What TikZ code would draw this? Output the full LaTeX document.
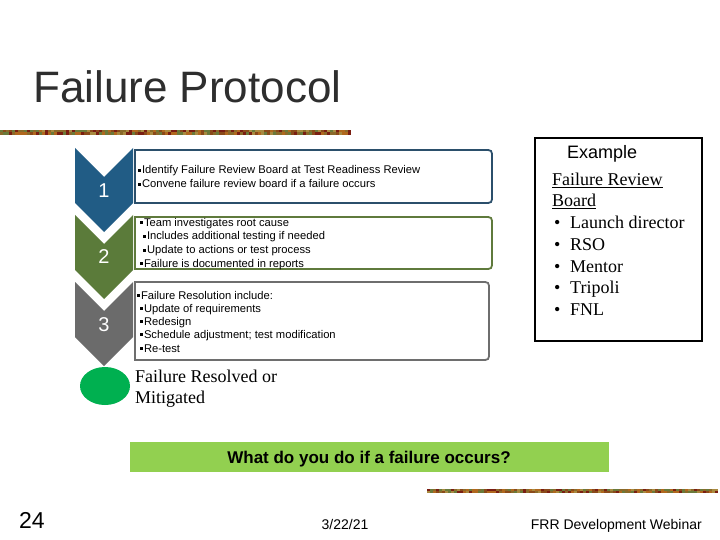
\documentclass[tikz,border=0pt]{standalone}
\usepackage{fontspec}
\setmainfont{Liberation Serif}
\newfontfamily\arial{Liberation Sans}
\usetikzlibrary{shapes.geometric}
\definecolor{cblue}{HTML}{215C85}
\definecolor{cbluel}{HTML}{2B4F6B}
\definecolor{colive}{HTML}{5B7B3A}
\definecolor{colivel}{HTML}{5F7A3C}
\definecolor{cgray}{HTML}{6B6B6B}
\definecolor{cgrayl}{HTML}{6E6E6E}
\definecolor{cgreen}{HTML}{00B050}
\definecolor{cband}{HTML}{92D050}
\definecolor{band1}{HTML}{8A6A2A}
\definecolor{band2}{HTML}{7A1E12}
\definecolor{band3}{HTML}{B0681E}
\definecolor{band4}{HTML}{6A7A3A}
\definecolor{band5}{HTML}{A88A40}
\definecolor{band6}{HTML}{8A4A1A}
\newcommand\chev[2]{\fill[#2] (75,#1) -- (104,{#1+29}) -- (133,#1) -- (133,{#1+55}) -- (104,{#1+84}) -- (75,{#1+55}) -- cycle;}
\newcommand\rbox[5]{\draw[#5] (#1,#2) -- ({#3-8},#2) .. controls (#3,#2) .. (#3,{#2+8}) -- (#3,{#4-8}) .. controls (#3,#4) .. ({#3-8},#4) -- (#1,#4) -- cycle;}
\newcommand\sqb{\rule[2.3pt]{3pt}{3pt}\hspace{0.8pt}}
\begin{document}
\begin{tikzpicture}[x=1pt,y=-1pt,
  itm/.style={anchor=base west,inner sep=0pt,font=\arial\fontsize{11.2}{13}\selectfont},
  num/.style={inner sep=0pt,text=white,font=\arial\fontsize{20}{22}\selectfont},
  serif/.style={anchor=base west,inner sep=0pt,font=\fontsize{18}{21}\selectfont},
  boxline/.style={line width=1.8pt,fill=white}]
\useasboundingbox (0,0) rectangle (720,540);
\fill[white] (0,0) rectangle (720,540);
% title
\node[anchor=base west,inner sep=0pt,text=black!82,font=\arial\fontsize{44}{48}\selectfont] (title) at (33,103) {Failure Protocol};
% decorative bands
\pgfmathsetseed{7}
\foreach \i in {0,3,...,349} {
  \pgfmathrandominteger{\r}{1}{6}
  \fill[fill=band\r] (\i,130) rectangle ++(3,2.5);
  \pgfmathrandominteger{\s}{1}{6}
  \fill[fill=band\s] (\i,132.5) rectangle ++(3,2.5);
}
\foreach \i in {427,430,...,717} {
  \pgfmathrandominteger{\r}{1}{6}
  \fill[fill=band\r] (\i,489) rectangle ++(3,2);
  \pgfmathrandominteger{\s}{1}{6}
  \fill[fill=band\s] (\i,491) rectangle ++(3,2);
}
% boxes
\rbox{135}{150}{492}{203}{boxline,draw=cbluel}
\rbox{135}{217}{492}{269}{boxline,draw=colivel}
\rbox{135}{282}{489}{360}{boxline,draw=cgrayl}
% chevrons
\chev{148}{cblue}
\chev{215}{colive}
\chev{282}{cgray}
\node[ellipse,fill=cgreen,minimum width=50pt,minimum height=38pt,inner sep=0pt] (done) at (105,386) {};
\node[num] (n1) at (104,191) {1};
\node[num] (n2) at (104,257) {2};
\node[num] (n3) at (104,325) {3};
% box 1 text
\node[itm] (a1) at (138,174) {\sqb Identify Failure Review Board at Test Readiness Review};
\node[itm] (a2) at (138,188) {\sqb Convene failure review board if a failure occurs};
% box 2 text
\node[itm] (b1) at (140,226) {\sqb Team investigates root cause};
\node[itm] (b2) at (143,240) {\sqb Includes additional testing if needed};
\node[itm] (b3) at (143,254) {\sqb Update to actions or test process};
\node[itm] (b4) at (140,267) {\sqb Failure is documented in reports};
% box 3 text
\node[itm] (c1) at (137,299) {\sqb Failure Resolution include:};
\node[itm] (c2) at (140,312) {\sqb Update of requirements};
\node[itm] (c3) at (140,325) {\sqb Redesign};
\node[itm] (c4) at (140,338) {\sqb Schedule adjustment; test modification};
\node[itm] (c5) at (140,352) {\sqb Re-test};
% resolved
\node[serif] (r1) at (135,382) {Failure Resolved or};
\node[serif] (r2) at (135,403) {Mitigated};
% example box
\draw[line width=2pt] (535,138) rectangle (702,341);
\node[anchor=base west,inner sep=0pt,font=\arial\fontsize{18}{20}\selectfont] (ex) at (567,159) {Example};
\node[serif] (e1) at (552,186) {\underline{Failure Review}};
\node[serif] (e2) at (552,207) {\underline{Board}};
\foreach \t/\y/\n in {Launch director/229/e3, RSO/251/e4, Mentor/272/e5, Tripoli/293/e6, FNL/315/e7} {
  \node[serif] (\n) at (554,\y) {\makebox[16pt][l]{\textbullet}\t};
}
% question band
\fill[cband] (130,442) rectangle (609,472);
\node[inner sep=0pt,anchor=base,font=\arial\bfseries\fontsize{17}{20}\selectfont] (q) at (369,463) {What do you do if a failure occurs?};
% footer
\node[anchor=base west,inner sep=0pt,font=\arial\fontsize{23}{26}\selectfont] (pg) at (19,528) {24};
\node[anchor=base,inner sep=0pt,font=\arial\fontsize{14}{16}\selectfont] (date) at (345,529) {3/22/21};
\node[anchor=base east,inner sep=0pt,font=\arial\fontsize{14}{16}\selectfont] (foot) at (702,529) {FRR Development Webinar};
\end{tikzpicture}
\end{document}
